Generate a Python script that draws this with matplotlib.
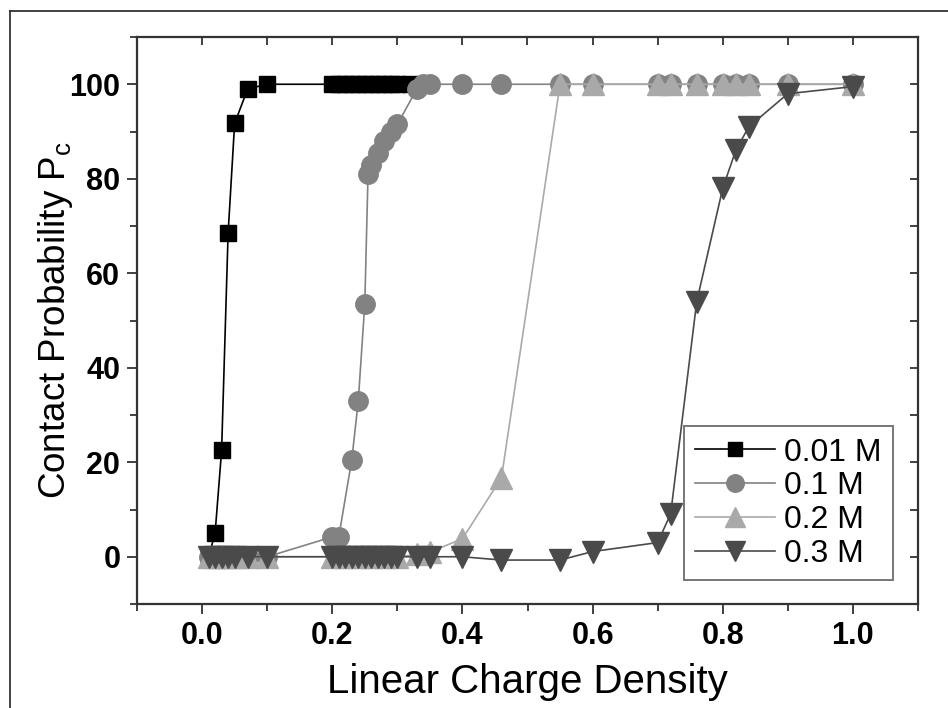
import matplotlib
matplotlib.use("Agg")
import matplotlib.pyplot as plt
from matplotlib.ticker import MultipleLocator
from matplotlib.lines import Line2D

plt.rcParams['font.family'] = ['Liberation Sans', 'DejaVu Sans']
plt.rcParams['mathtext.fontset'] = 'custom'
plt.rcParams['mathtext.rm'] = 'Liberation Sans'
plt.rcParams['mathtext.it'] = 'Liberation Sans'

labels = ["0.01 M", "0.1 M", "0.2 M", "0.3 M"]

x_001 = [0.01, 0.02, 0.03, 0.04, 0.05, 0.07, 0.10, 0.20, 0.21, 0.22, 0.23, 0.24, 0.25,
         0.26, 0.27, 0.28, 0.29, 0.30, 0.32]
y_001 = [0.0, 5.0, 22.5, 68.5, 91.7, 99.0, 100, 100, 100, 100, 100, 100, 100,
         100, 100, 100, 100, 100, 100]

x_01 = [0.01, 0.02, 0.03, 0.04, 0.05, 0.07, 0.10, 0.20, 0.21, 0.23, 0.24, 0.25, 0.255,
        0.26, 0.27, 0.28, 0.29, 0.30, 0.33, 0.34, 0.35, 0.40, 0.46, 0.55, 0.60, 0.70,
        0.72, 0.76, 0.80, 0.82, 0.84, 0.90, 1.00]
y_01 = [0, 0, 0, 0, 0, 0, 0, 4.2, 4.2, 20.5, 33.0, 53.5, 81.0,
        83.0, 85.5, 88.0, 90.0, 91.5, 99.0, 100, 100, 100, 100, 100, 100, 100,
        100, 100, 100, 100, 100, 100, 100]

x_02 = [0.01, 0.02, 0.03, 0.04, 0.05, 0.07, 0.10, 0.20, 0.22, 0.24, 0.26, 0.28, 0.30,
        0.33, 0.35, 0.40, 0.46, 0.55, 0.60, 0.70, 0.72, 0.76, 0.80, 0.82, 0.84, 0.90, 1.00]
y_02 = [0, 0, 0, 0, 0, 0, 0, 0, 0, 0, 0, 0, 0,
        0.5, 1.0, 3.8, 16.7, 100, 100, 100, 100, 100, 100, 100, 100, 100, 100]

x_03 = [0.01, 0.02, 0.03, 0.04, 0.05, 0.07, 0.10, 0.20, 0.21, 0.22, 0.23, 0.24, 0.25,
        0.26, 0.27, 0.28, 0.29, 0.30, 0.33, 0.35, 0.40, 0.46, 0.55, 0.60, 0.70, 0.72,
        0.76, 0.80, 0.82, 0.84, 0.90, 1.00]
y_03 = [0, 0, 0, 0, 0, 0, 0, 0, 0, 0, 0, 0, 0,
        0, 0, 0, 0, 0, 0, 0, 0, -0.7, -0.7, 1.1, 3.0, 9.1,
        54.0, 78.0, 86.0, 91.0, 98.0, 99.5]

x_ticks = [0.0, 0.2, 0.4, 0.6, 0.8, 1.0]
y_ticks = [0, 20, 40, 60, 80, 100]

fig = plt.figure(figsize=(9.48, 7.08), dpi=100)
ax = fig.add_axes([137/948, 1 - 604/708, (918-137)/948, (604-37)/708])

# outer frame lines
fig.add_artist(Line2D([10/948, 1.0], [1 - 11/708, 1 - 11/708], transform=fig.transFigure,
                      color='#222222', lw=1.2))
fig.add_artist(Line2D([10/948, 10/948], [0.0, 1 - 11/708], transform=fig.transFigure,
                      color='#222222', lw=1.2))

c3 = '#4a4a4a'
c2 = '#a9a9a9'
c1 = '#828282'
ax.plot(x_001, y_001, '-', color='black', lw=1.2, marker='s', ms=11.5, mec='black',
        mfc='black', label=labels[0], zorder=2)
ax.plot(x_01, y_01, '-', color=c1, lw=1.2, marker='o', ms=14, mec=c1, mfc=c1,
        label=labels[1], zorder=3)
ax.plot(x_02, y_02, '-', color=c2, lw=1.2, marker='^', ms=16, mec=c2, mfc=c2,
        label=labels[2], zorder=4)
ax.plot(x_03, y_03, '-', color=c3, lw=1.2, marker='v', ms=16, mec=c3, mfc=c3,
        label=labels[3], zorder=5)

ax.set_xlim(-0.1, 1.1)
ax.set_ylim(-10, 110)
ax.set_xticks(x_ticks)
ax.set_yticks(y_ticks)
ax.set_xticklabels([f"{v:.1f}" for v in x_ticks])
ax.set_yticklabels([str(v) for v in y_ticks])
ax.xaxis.set_minor_locator(MultipleLocator(0.1))
ax.yaxis.set_minor_locator(MultipleLocator(10))

spine_c = '#333333'
for s in ax.spines.values():
    s.set_linewidth(1.6)
    s.set_color(spine_c)

ax.tick_params(which='major', direction='out', length=7, width=1.3, color=spine_c,
               labelsize=22, pad=5)
ax.tick_params(which='minor', direction='out', length=5, width=1.3, color=spine_c)
for lab in ax.get_xticklabels() + ax.get_yticklabels():
    lab.set_fontweight('bold')

top = ax.secondary_xaxis('top')
top.set_xticks(x_ticks)
top.xaxis.set_minor_locator(MultipleLocator(0.1))
top.tick_params(which='both', direction='in', length=6, width=1.3, color=spine_c,
                labeltop=False)
top.spines['top'].set_visible(False)
right = ax.secondary_yaxis('right')
right.set_yticks(y_ticks)
right.yaxis.set_minor_locator(MultipleLocator(10))
right.tick_params(which='both', direction='in', length=6, width=1.3, color=spine_c,
                  labelright=False)
right.spines['right'].set_visible(False)

ax.set_xlabel("Linear Charge Density", fontsize=29, labelpad=9)
ax.set_ylabel(r"Contact Probability P$_\mathrm{c}$", fontsize=26.5, labelpad=-4)

handles, labs = ax.get_legend_handles_labels()
leg = ax.legend(handles, labs,
                loc='lower right', bbox_to_anchor=(0.968, 0.042), fontsize=23,
                handlelength=2.5, handletextpad=0.3, labelspacing=0.12,
                borderpad=0.35, fancybox=False, framealpha=1, edgecolor='#777777',
                borderaxespad=0)
leg.get_frame().set_linewidth(1.4)
for h in leg.legend_handles:
    h.set_markersize(h.get_markersize() * 0.9)

fig.savefig("out.png", dpi=100)
